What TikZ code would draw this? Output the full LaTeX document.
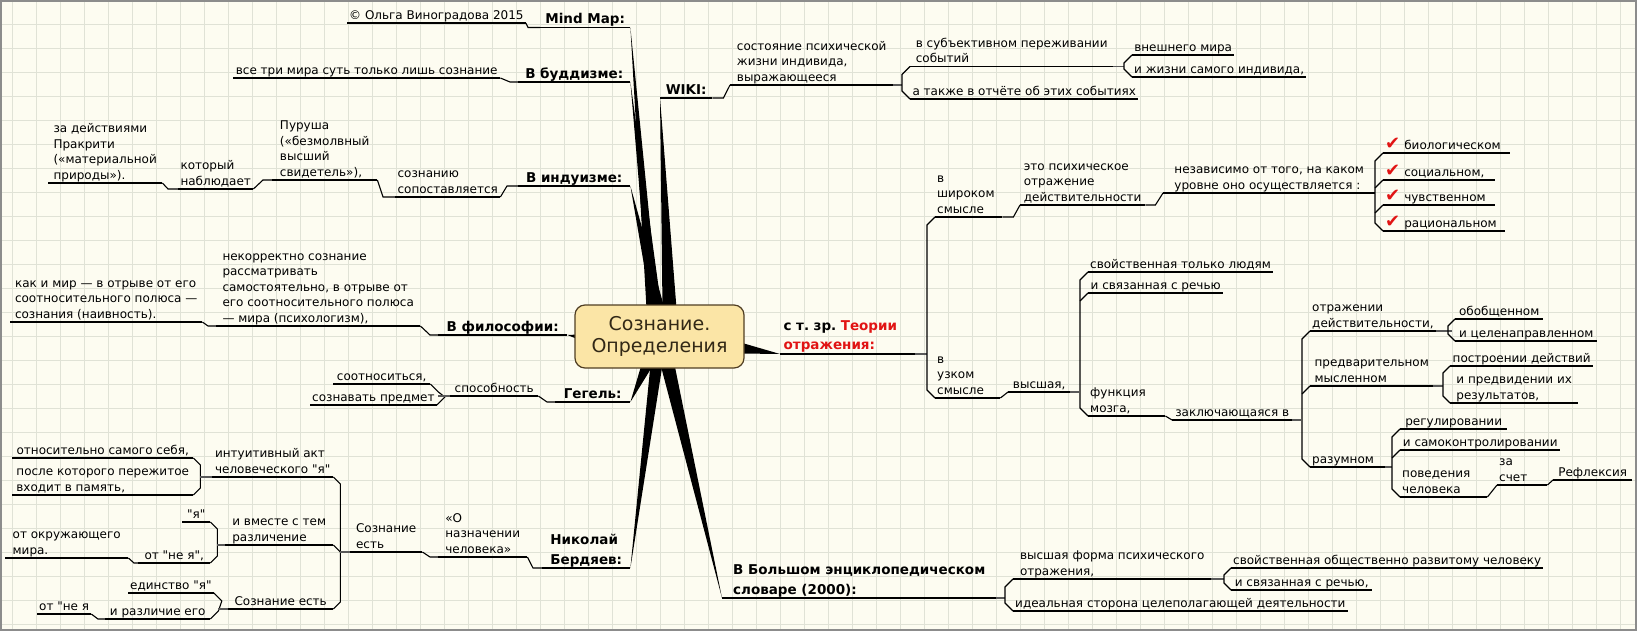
\documentclass[tikz,border=0pt]{standalone}
\usepackage{fontspec}
\setmainfont[Ligatures=TeXOff]{DejaVu Sans}
\usetikzlibrary{calc,backgrounds}
\definecolor{paper}{RGB}{253,252,241}
\definecolor{gridln}{RGB}{224,226,214}
\definecolor{edgegray}{RGB}{140,140,140}
\definecolor{boxfill}{RGB}{251,229,166}
\definecolor{boxdraw}{RGB}{80,62,35}
\definecolor{boxtext}{RGB}{50,40,22}
\definecolor{hlred}{RGB}{225,20,20}
\tikzset{
  ln/.style={draw,line width=1.1pt},
  jn/.style={draw=black!65,line width=1.8pt},
  txt/.style={font=\fontsize{12}{15.5}\selectfont\frenchspacing,align=left,anchor=south west,inner xsep=2pt,inner ysep=1pt,text depth=2.5pt,minimum width=#1,
    append after command={(\tikzlastnode.south west) edge[ln] (\tikzlastnode.south east)}},
  topic/.style={txt=#1,font=\fontsize{13.5}{19.5}\selectfont\bfseries\frenchspacing},
  lft/.style={text width=#1,text depth=,execute at end node={\rule[-2.5pt]{0pt}{1pt}}},
  ctrbox/.style={draw=boxdraw,fill=boxfill,line width=1.2pt,rounded corners=10pt,minimum width=169pt,minimum height=63pt,align=center,text=boxtext,font=\fontsize{19}{22}\selectfont},
  spk/.style={fill=black},
  grd/.style={draw=gridln,line width=0.8pt}
}
\newcommand{\chk}{{\color{hlred}\fontsize{18}{15}\selectfont ✔}\ }

\begin{document}
\begin{tikzpicture}[x=1pt,y=-1pt]
  \useasboundingbox (0,0) rectangle (1637,631);
  % Paper and grid
  \begin{pgfonlayer}{background}
    \fill[paper] (0,0) rectangle (1637,631);
    \foreach \gx in {12,36,...,1636} \draw[grd] (\gx,0) -- (\gx,631);
    \foreach \gy in {24,48,...,624} \draw[grd] (0,\gy) -- (1637,\gy);
  \end{pgfonlayer}

  % Central topic
  \node[ctrbox] (ctr) at (659.5,336.5) {Сознание.\\Определения};

  % Mind Map
  \node[topic=90] (mm) at (540,27.5) {Mind Map:};
  \node[txt=170] (copy) at (347,23) {© Ольга Виноградова 2015};
  \draw[ln] (copy.south east) -- ($(mm.south west)+(-12,0)$) -- (mm.south west);

  % Buddhism
  \node[topic=112] (bud) at (518,82) {В буддизме:};
  \node[txt=267] (bud1) at (233,78) {все три мира суть только лишь сознание};
  \draw[ln] (bud1.south east) -- ($(bud.south west)+(-8,0)$) -- (bud.south west);

  % Hinduism
  \node[topic=112] (ind) at (518,186) {В индуизме:};
  \node[txt=105] (ind1) at (395,197) {сознанию\\сопоставляется};
  \node[txt=105] (pur) at (272,180) {Пуруша\\(«безмолвный\\высший\\свидетель»),};
  \node[txt=75] (nab) at (178,189) {который\\наблюдает};
  \node[txt=114] (zad) at (48,183) {за действиями\\Пракрити\\(«материальной\\природы»).};
  \draw[ln] (ind1.south east) -- ($(ind.south west)+(-11,0)$) -- (ind.south west);
  \draw[ln] (pur.south east) -- ($(ind1.south west)+(-12,0)$) -- (ind1.south west);
  \draw[ln] (nab.south east) -- ($(pur.south west)+(-9,0)$) -- (pur.south west);
  \draw[ln] (zad.south east) -- ($(nab.south west)+(-10,0)$) -- (nab.south west);

  % Philosophy
  \node[topic=129] (phi) at (438,335) {В философии:};
  \node[txt=204] (phi1) at (216,326) {некорректно сознание\\рассматривать\\самостоятельно, в отрыве от\\его соотносительного полюса\\— мира (психологизм),};
  \node[txt=192] (phi2) at (10,322) {как и мир — в отрыве от его\\соотносительного полюса —\\сознания (наивность).};
  \draw[ln] (phi1.south east) -- ($(phi.south west)+(-8,0)$) -- (phi.south west);
  \draw[ln] (phi2.south east) -- ($(phi1.south west)+(-8,0)$) -- (phi1.south west);

  % Hegel
  \node[topic=75] (heg) at (555,402) {Гегель:};
  \node[txt=88] (spo) at (450,396) {способность};
  \node[txt=97] (sot) at (333,384) {соотноситься,};
  \node[txt=120] (szp) at (310,405) {сознавать предмет};
  \draw[ln] (spo.south east) -- ($(heg.south west)+(-8,0)$) -- (heg.south west);
  \draw[ln] (sot.south east) -- ++(8,8) -- ($(szp.south east)+(8,-8)$) -- (szp.south east);
  \draw[jn] (spo.south west) -- ++(-12,0);

  % Berdyaev
  \node[topic=88] (ber) at (542,568) {Николай\\Бердяев:};
  \node[txt=89] (naz) at (438,557) {«О\\назначении\\человека»};
  \node[txt=72] (soz1) at (350,552) {Сознание\\есть};
  \node[txt=121] (int) at (212,477) {интуитивный акт\\человеческого "я"};
  \node[txt=181] (ots) at (12,458) {относительно самого себя,};
  \node[txt=181] (psl) at (12,495) {после которого пережитое\\входит в память,};
  \node[txt=108] (razl) at (225,545) {и вместе с тем\\различение};
  \node[txt=28] (ya) at (182,522) {"я"};
  \node[txt=72] (otne) at (138,563) {от "не я",};
  \node[txt=123] (okr) at (5,558) {от окружающего\\мира.};
  \node[txt=105] (soz2) at (228,609) {Сознание есть};
  \node[txt=82] (edi) at (128,593) {единство "я"};
  \node[txt=105] (ira) at (105,619) {и различие его};
  \node[txt=53] (otne2) at (37,614) {от "не я};
  \draw[ln] (naz.south east) -- ($(ber.south west)+(-9,0)$) -- (ber.south west);
  \draw[ln] (soz1.south east) -- ($(naz.south west)+(-8,0)$) -- (naz.south west);
  \draw[ln] (int.south east) -- ++(7,7) -- ($(soz2.south east)+(7,-7)$) -- (soz2.south east);
  \draw[ln] (razl.south east) -- ++(7,7);
  \draw[jn] (soz1.south west) -- ++(-10,0);
  \draw[ln] (ots.south east) -- ++(7,7) -- ($(psl.south east)+(7,-7)$) -- (psl.south east);
  \draw[jn] (int.south west) -- ++(-12,0);
  \draw[ln] (ya.south east) -- ++(7,7) -- ($(otne.south east)+(7,-7)$) -- (otne.south east);
  \draw[jn] (razl.south west) -- ++(-8,0);
  \draw[ln] (okr.south east) -- ($(otne.south west)+(-4,0)$) -- (otne.south west);
  \draw[ln] (edi.south east) -- ++(8,8) -- ($(ira.south east)+(8,-8)$) -- (ira.south east);
  \draw[jn] (soz2.south west) -- ++(-10,0);
  \draw[ln] (otne2.south east) -- ($(ira.south west)+(-7,0)$) -- (ira.south west);

  % WIKI
  \node[topic=52] (wiki) at (660,98) {WIKI:};
  \node[txt=163] (wk1) at (730,85) {состояние психической\\жизни индивида,\\выражающееся};
  \node[txt=203] (wk2) at (910,66.5) {в субъективном переживании\\событий};
  \node[txt=228] (wk3) at (910,99) {а также в отчёте об этих событиях};
  \node[txt=102] (wk4) at (1132,55) {внешнего мира};
  \node[txt=173] (wk5) at (1132,77) {и жизни самого индивида,};
  \draw[ln] (wiki.south east) -- ++(11,0) -- (wk1.south west);
  \draw[jn] (wk1.south east) -- ++(9,0);
  \draw[ln] (wk2.south west) -- ++(-8,8) -- ($(wk3.south west)+(-8,-8)$) -- (wk3.south west);
  \draw[jn] (wk2.south east) -- ++(11,0);
  \draw[ln] (wk4.south west) -- ++(-8,8) -- ($(wk5.south west)+(-8,-8)$) -- (wk5.south west);

  % Reflection theory
  \node[topic=135,lft=128pt] (ref) at (780,354) {с т. зр. \textcolor{hlred}{Теории отражения:}};
  \node[txt=67,lft=63pt] (shr) at (935,217) {в\\широком\\смысле};
  \node[txt=125] (eto) at (1020,205) {это психическое\\отражение\\действительности};
  \node[txt=212] (nez) at (1163,193) {независимо от того, на каком\\уровне оно осуществляется :};
  \node[txt=127,lft=123pt] (bio) at (1383,153) {\chk биологическом};
  \node[txt=112,lft=108pt] (soc) at (1383,180) {\chk социальном,};
  \node[txt=112,lft=108pt] (chu) at (1383,205) {\chk чувственном};
  \node[txt=122,lft=118pt] (rac) at (1383,231) {\chk рациональном};
  \node[txt=65,lft=61pt] (uzk) at (935,398) {в\\узком\\смысле};
  \draw[jn] (ref.south east) -- ++(12,0);
  \draw[ln] (shr.south west) -- ++(-8,8) -- ($(uzk.south west)+(-8,-8)$) -- (uzk.south west);
  \draw[ln] (shr.south east) -- ++(11,0) -- (eto.south west);
  \draw[ln] (eto.south east) -- ++(10,0) -- (nez.south west);
  \draw[ln] (bio.south west) -- ++(-8,8) -- ($(rac.south west)+(-8,-8)$) -- (rac.south west);
  \draw[ln] (soc.south west) -- ++(-8,8);
  \draw[ln] (chu.south west) -- ++(-8,8);

  \node[txt=62] (vys) at (1008,392) {высшая,};
  \node[txt=180] (sv1) at (1088,272) {свойственная только людям};
  \node[txt=135] (sv2) at (1088,293) {и связанная с речью};
  \node[txt=77,lft=73pt] (fun) at (1088,416) {функция\\мозга,};
  \node[txt=120] (zak) at (1172,420) {заключающаяся в};
  \node[txt=122] (otr) at (1310,331) {отражении\\действительности,};
  \node[txt=88] (obo) at (1455,319) {обобщенном};
  \node[txt=142] (cel) at (1455,341) {и целенаправленном};
  \node[txt=123] (pre) at (1310,386) {предварительном\\мысленном};
  \node[txt=143] (pst) at (1450,366) {построении действий};
  \node[txt=128] (prd) at (1450,403) {и предвидении их\\результатов,};
  \node[txt=75,lft=71pt] (raz) at (1310,467) {разумном};
  \node[txt=107] (reg) at (1400,429) {регулировании};
  \node[txt=160] (sam) at (1400,450) {и самоконтролировании};
  \node[txt=87,lft=83pt] (pov) at (1400,497) {поведения\\человека};
  \node[txt=50,lft=46pt] (za) at (1497,485) {за\\счет};
  \node[txt=79] (rfl) at (1553,480) {Рефлексия};
  \draw[ln] (uzk.south east) -- (vys.south west);
  \draw[jn] (vys.south east) -- ++(9,0);
  \draw[ln] (sv1.south west) -- ++(-8,8) -- ($(fun.south west)+(-8,-8)$) -- (fun.south west);
  \draw[ln] (sv2.south west) -- ++(-8,8);
  \draw[ln] (fun.south east) -- (zak.south west);
  \draw[jn] (zak.south east) -- ++(9,0);
  \draw[ln] (otr.south west) -- ++(-8,8) -- ($(raz.south west)+(-8,-8)$) -- (raz.south west);
  \draw[ln] (pre.south west) -- ++(-8,8);
  \draw[jn] (otr.south east) -- ++(16,0);
  \draw[ln] (obo.south west) -- ++(-7,7) -- ($(cel.south west)+(-7,-7)$) -- (cel.south west);
  \draw[jn] (pre.south east) -- ++(10,0);
  \draw[ln] (pst.south west) -- ++(-7,7) -- ($(prd.south west)+(-7,-7)$) -- (prd.south west);
  \draw[jn] (raz.south east) -- ++(7,0);
  \draw[ln] (reg.south west) -- ++(-8,8) -- ($(pov.south west)+(-8,-8)$) -- (pov.south west);
  \draw[ln] (sam.south west) -- ++(-8,8);
  \draw[ln] (pov.south east) -- (za.south west);
  \draw[ln] (za.south east) -- (rfl.south west);

  % Big encyclopedic dictionary
  \node[topic=274] (bes) at (722,598) {В Большом энциклопедическом\\словаре (2000):};
  \node[txt=198] (vf) at (1013,579) {высшая форма психического\\отражения,};
  \node[txt=330] (idl) at (1013,611) {идеальная сторона целеполагающей деятельности};
  \node[txt=310] (so1) at (1231,568) {свойственная общественно развитому человеку};
  \node[txt=141] (so2) at (1231,590) {и связанная с речью,};
  \draw[jn] (bes.south east) -- ++(9,0);
  \draw[ln] (vf.south west) -- ++(-8,8) -- ($(idl.south west)+(-8,-8)$) -- (idl.south west);
  \draw[jn] (vf.south east) -- ++(13,0);
  \draw[ln] (so1.south west) -- ++(-7,7) -- ($(so2.south west)+(-7,-7)$) -- (so2.south west);

  % Spikes from the centre
  \begin{pgfonlayer}{background}
    \fill[spk] ($(ctr.north)+(-13,4)$) -- (mm.south east) -- ($(ctr.north)+(-1,4)$) -- cycle;
    \fill[spk] ($(ctr.north)+(-10,4)$) -- (bud.south east) -- ($(ctr.north)+(2,4)$) -- cycle;
    \fill[spk] ($(ctr.north)+(-8,4)$) -- (ind.south east) -- ($(ctr.north)+(5,4)$) -- cycle;
    \fill[spk] ($(ctr.north)+(3,4)$) -- (wiki.south west) -- ($(ctr.north)+(17,4)$) -- cycle;
    \fill[spk] ($(ctr.west)+(4,-2)$) -- (phi.south east) -- ($(ctr.west)+(4,3)$) -- cycle;
    \fill[spk] ($(ctr.south)+(-18,-4)$) -- (heg.south east) -- ($(ctr.south)+(-6,-4)$) -- cycle;
    \fill[spk] ($(ctr.south)+(-9,-4)$) -- (ber.south east) -- ($(ctr.south)+(3,-4)$) -- cycle;
    \fill[spk] ($(ctr.south)+(1,-4)$) -- (bes.south west) -- ($(ctr.south)+(15,-4)$) -- cycle;
    \fill[spk] ($(ctr.east)+(-4,6)$) -- (ref.south west) -- ($(ctr.east)+(-4,17)$) -- cycle;
  \end{pgfonlayer}

  \draw[edgegray,line width=2pt] (1,1) rectangle (1636,630);
\end{tikzpicture}
\end{document}
